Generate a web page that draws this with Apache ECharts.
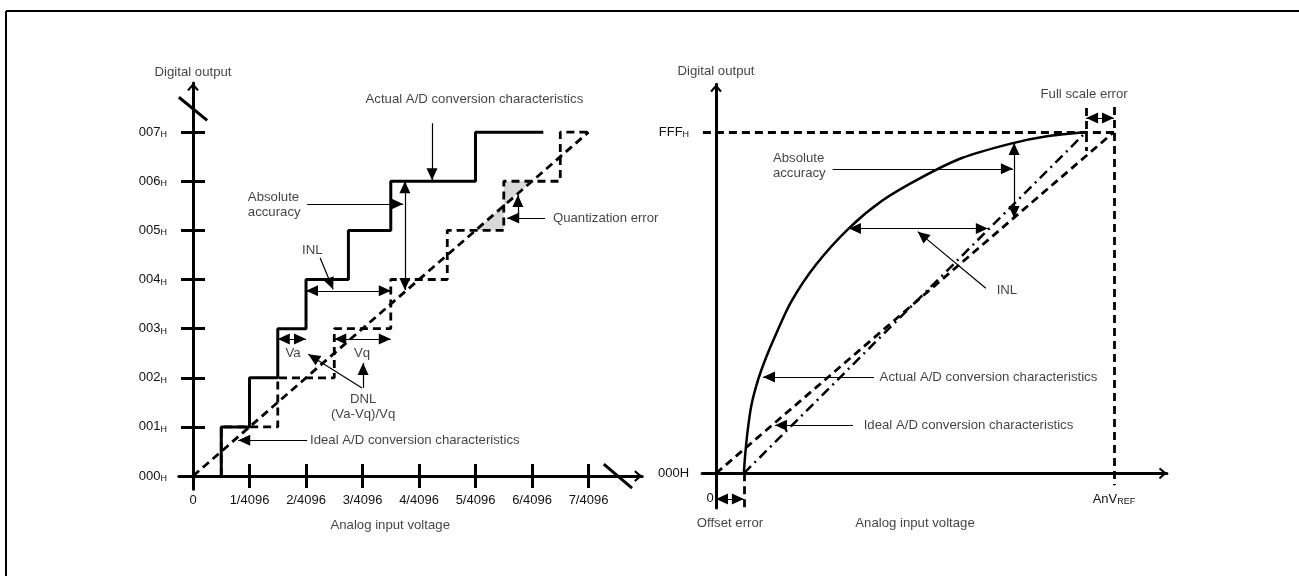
<!DOCTYPE html>
<html>
<head>
<meta charset="utf-8">
<script src="https://cdn.jsdelivr.net/npm/echarts@6/dist/echarts.min.js"></script>
<style>
html, body { margin: 0; padding: 0; background: #fff; }
#chart { width: 1299px; height: 576px; }
</style>
</head>
<body>
<div id="chart"></div>
<script>
// ---- left diagram: x in LSB (1/4096 steps), y in output codes ----
const codes = [0, 1, 2, 3, 4, 5, 6, 7];
const actualSteps = [0.5, 1, 1.5, 2, 2.75, 3.5, 5, 6.2];
const idealSteps = [0.5, 1.5, 2.5, 3.5, 4.5, 5.5, 6.5, 7];
const idealDiagonal = [[0, 0], [7, 7]];
const quantTriangles = [[5, 5, 5.5, 5, 5.5, 5.5], [5.5, 5.5, 5.5, 6, 6, 6]];
const xTickValues = [1, 2, 3, 4, 5, 6, 7];
const xLabelValues = [0, 1, 2, 3, 4, 5, 6, 7];
const xLabelTexts = ['0', '1/4096', '2/4096', '3/4096', '4/4096', '5/4096', '6/4096', '7/4096'];
const yTickValues = [1, 2, 3, 4, 5, 6, 7];
const yLabelTexts = ['000', '001', '002', '003', '004', '005', '006', '007'];

const arrowsL = [
    [[4.23, 7.18], [4.23, 6.02]],
    [[2.02, 5.535], [3.72, 5.535]],
    [[2.25, 4.44], [2.48, 3.8]],
    [[2.99, 1.79], [2.04, 2.48]],
    [[3.01, 1.79], [3.01, 2.30]],
    [[2.02, 0.73], [0.80, 0.73]],
    [[6.23, 5.25], [5.56, 5.25]],
    [[5.75, 5.25], [5.75, 5.72]]
];
const doubleArrowsL = [
    [[3.75, 6.0], [3.75, 3.785]],
    [[2.0, 3.77], [3.5, 3.77]],
    [[1.5, 2.79], [2.0, 2.79]],
    [[2.5, 2.79], [3.5, 2.79]]
];
const breaksL = [
    [[-0.25, 7.71], [0.25, 7.24]],
    [[7.27, 0.244], [7.77, -0.244]]
];
const textsL = [
    ['Digital output', 0, 8.22, 'center'],
    ['Actual A/D conversion characteristics', 4.98, 7.67, 'center'],
    ['Absolute\naccuracy', 0.97, 5.52, 'left'],
    ['INL', 2.11, 4.6, 'center'],
    ['Va', 1.77, 2.5, 'center'],
    ['Vq', 2.99, 2.5, 'center'],
    ['DNL\n(Va-Vq)/Vq', 3.01, 1.4, 'center'],
    ['Ideal A/D conversion characteristics', 2.07, 0.73, 'left'],
    ['Quantization error', 6.37, 5.25, 'left'],
    ['Analog input voltage', 3.49, -1.0, 'center']
];

// ---- right diagram: x, y in percent of full scale ----
const idealLineR = [[0, 0], [100, 100]];
const errorLineR = [[7, 0], [93, 100]];
const actualCurveR = [
    [7, 0], [7.3, 5], [7.9, 12], [8.9, 20], [10.6, 27.5], [12.6, 34], [14.7, 39.8],
    [18.9, 50.3], [25.1, 61.1], [33.5, 71.9], [41.8, 79.9], [51.2, 86.4],
    [61.6, 92.3], [74.1, 96.6], [83.5, 98.8], [93, 100]
];
const guidesR = [
    [[-3.3, 100], [100, 100]],
    [[100, 107.3], [100, -3.5]],
    [[93, 107], [93, 94.4]],
    [[7, 0], [7, -10.2]]
];
const arrowsR = [
    [[29.3, 89.2], [74.6, 89.2]],
    [[67.8, 54.2], [50.7, 70.8]],
    [[39.7, 28.2], [11.8, 28.2]],
    [[34.4, 14.1], [14.8, 14.1]]
];
const doubleArrowsR = [
    [[74.9, 96.8], [74.9, 74.8]],
    [[33.4, 71.7], [68.3, 71.7]],
    [[93, 104.1], [100, 104.1]],
    [[0, -7.5], [7, -7.5]]
];
const textsR = [
    ['Digital output', 0, 117.9, 'center'],
    ['Full scale error', 92.5, 110.9, 'center'],
    ['Absolute\naccuracy', 14.3, 90.0, 'left'],
    ['INL', 73.1, 53.6, 'center'],
    ['Actual A/D conversion characteristics', 41.1, 28.2, 'left'],
    ['Ideal A/D conversion characteristics', 37.1, 14.1, 'left'],
    ['Offset error', 3.5, -14.6, 'center'],
    ['Analog input voltage', 50, -14.6, 'center']
];
const xLabelValuesR = [0, 100];
const yLabelValuesR = [0, 100];

const ink = '#000';
const textColor = '#111';
const font = '"Liberation Sans", Arial, sans-serif';
const chevron = 'path://M0,7L6,0L12,7L10.2,8.2L6,3.4L1.8,8.2Z';
// triangle with its tip in the centre of the symbol box
const head = 'path://M4.5,-10L4.51,-10L4.5,-10ZM4.5,0L9,10L0,10Z';
const headSize = [11, 24];
const dash = [8, 5];

const chart = echarts.init(document.getElementById('chart'));

function axisLineStyle(show, onZeroIdx) {
    return {
        show: show, onZero: true, onZeroAxisIndex: onZeroIdx,
        symbol: ['none', chevron], symbolSize: [12, 8], symbolOffset: [0, -4],
        lineStyle: { color: ink, width: 3 }
    };
}
const tickStyle = { color: ink, width: 3 };
const labelBase = { color: textColor, fontFamily: font, fontSize: 13 };
const subRich = {
    n: { color: textColor, fontFamily: font, fontSize: 13 },
    s: { color: textColor, fontFamily: font, fontSize: 9, padding: [5, 0, 0, 0] },
    z: { color: textColor, fontFamily: font, fontSize: 13, padding: [0, 12, 0, 0] }
};

function arrowSeries(list, both, xi, yi) {
    return {
        type: 'lines', coordinateSystem: 'cartesian2d', xAxisIndex: xi, yAxisIndex: yi,
        symbol: [both ? head : 'none', head], symbolSize: [headSize, headSize],
        lineStyle: { color: ink, width: 1.2, opacity: 1 },
        data: list.map(c => ({ coords: c })), silent: true, z: 5
    };
}
function textSeries(list, xi, yi) {
    return {
        type: 'scatter', xAxisIndex: xi, yAxisIndex: yi, symbolSize: 1,
        itemStyle: { color: 'rgba(0,0,0,0)' }, clip: false, silent: true, z: 6,
        data: list.map(t => ({
            value: [t[1], t[2]],
            label: { show: true, position: 'inside', formatter: t[0], align: t[3],
                verticalAlign: 'middle', lineHeight: 15, color: textColor, fontFamily: font, fontSize: 13.2 }
        }))
    };
}

chart.setOption({
    animation: false,
    backgroundColor: '#fff',
    grid: [
        { left: 178.9, right: 656.8, top: 83, bottom: 86.7, outerBoundsMode: 'none' },
        { left: 702.1, right: 132.1, top: 84.2, bottom: 67.9, outerBoundsMode: 'none' }
    ],
    xAxis: [
        { gridIndex: 0, type: 'value', min: -0.25, max: 7.95, position: 'bottom',
          axisLine: axisLineStyle(true, 0),
          axisTick: { show: true, customValues: xTickValues, length: 12, lineStyle: tickStyle },
          axisLabel: { show: true, customValues: xLabelValues, margin: 5, ...labelBase,
                       formatter: v => xLabelTexts[Math.round(v)] },
          splitLine: { show: false } },
        { gridIndex: 0, type: 'value', min: -0.25, max: 7.95, position: 'bottom',
          axisLine: { show: false, onZero: true, onZeroAxisIndex: 0 },
          axisTick: { show: true, inside: true, customValues: xTickValues, length: 12, lineStyle: tickStyle },
          axisLabel: { show: false }, splitLine: { show: false } },
        { gridIndex: 1, type: 'value', min: -3.5, max: 113.3, position: 'bottom',
          axisLine: axisLineStyle(true, 2),
          axisTick: { show: false },
          axisLabel: { show: true, customValues: xLabelValuesR, margin: -16, ...labelBase, rich: subRich,
                       formatter: v => v === 0 ? '{z|0}' : '{n|AnV}{s|REF}' },
          splitLine: { show: false } }
    ],
    yAxis: [
        { gridIndex: 0, type: 'value', min: -0.27, max: 8.0, position: 'left',
          axisLine: axisLineStyle(true, 0),
          axisTick: { show: true, customValues: yTickValues, length: 12, lineStyle: tickStyle },
          axisLabel: { show: true, customValues: codes, margin: 12, ...labelBase, rich: subRich,
                       formatter: v => '{n|' + yLabelTexts[Math.round(v)] + '}{s|H}' },
          splitLine: { show: false } },
        { gridIndex: 0, type: 'value', min: -0.27, max: 8.0, position: 'left',
          axisLine: { show: false, onZero: true, onZeroAxisIndex: 0 },
          axisTick: { show: true, inside: true, customValues: yTickValues, length: 12, lineStyle: tickStyle },
          axisLabel: { show: false }, splitLine: { show: false } },
        { gridIndex: 1, type: 'value', min: -10.2, max: 114, position: 'left',
          axisLine: axisLineStyle(true, 2),
          axisTick: { show: false },
          axisLabel: { show: true, customValues: yLabelValuesR, margin: 13, ...labelBase, rich: subRich,
                       formatter: v => v === 0 ? '{n|000H}' : '{n|FFF}{s|H}' },
          splitLine: { show: false } }
    ],
    graphic: [
        { type: 'line', shape: { x1: 6, y1: 11, x2: 1299, y2: 11 }, style: { stroke: ink, lineWidth: 2 }, silent: true },
        { type: 'line', shape: { x1: 6, y1: 11, x2: 6, y2: 576 }, style: { stroke: ink, lineWidth: 2 }, silent: true }
    ],
    series: [
        // left diagram
        { type: 'custom', xAxisIndex: 0, yAxisIndex: 0, silent: true, z: 1,
          data: quantTriangles,
          renderItem: (params, api) => ({
              type: 'polygon',
              shape: { points: [0, 2, 4].map(i => api.coord([api.value(i), api.value(i + 1)])) },
              style: { fill: '#d9d9d9' }
          }) },
        { type: 'line', xAxisIndex: 0, yAxisIndex: 0, step: 'start', symbol: 'none', silent: true, z: 2,
          data: idealSteps.map((x, i) => [x, codes[i]]),
          lineStyle: { color: ink, width: 2.8, type: dash } },
        { type: 'line', xAxisIndex: 0, yAxisIndex: 0, symbol: 'none', silent: true, z: 2,
          data: idealDiagonal, lineStyle: { color: ink, width: 2.8, type: dash } },
        { type: 'line', xAxisIndex: 0, yAxisIndex: 0, step: 'start', symbol: 'none', silent: true, z: 3,
          data: actualSteps.map((x, i) => [x, codes[i]]),
          lineStyle: { color: ink, width: 3 } },
        { type: 'lines', coordinateSystem: 'cartesian2d', xAxisIndex: 0, yAxisIndex: 0, silent: true, z: 4,
          data: breaksL.map(c => ({ coords: c })), lineStyle: { color: ink, width: 3, opacity: 1 } },
        arrowSeries(arrowsL, false, 0, 0),
        arrowSeries(doubleArrowsL, true, 0, 0),
        textSeries(textsL, 0, 0),
        // right diagram
        { type: 'lines', coordinateSystem: 'cartesian2d', xAxisIndex: 2, yAxisIndex: 2, silent: true, z: 2,
          data: guidesR.map(c => ({ coords: c })), lineStyle: { color: ink, width: 2.8, type: dash, opacity: 1 } },
        { type: 'line', xAxisIndex: 2, yAxisIndex: 2, symbol: 'none', silent: true, z: 2,
          data: idealLineR, lineStyle: { color: ink, width: 2.8, type: dash } },
        { type: 'line', xAxisIndex: 2, yAxisIndex: 2, symbol: 'none', silent: true, z: 2,
          data: errorLineR, lineStyle: { color: ink, width: 2.5, type: [10, 5, 2, 5] } },
        { type: 'line', xAxisIndex: 2, yAxisIndex: 2, symbol: 'none', smooth: 0.3, silent: true, z: 3,
          data: actualCurveR, lineStyle: { color: ink, width: 2.5 } },
        arrowSeries(arrowsR, false, 2, 2),
        arrowSeries(doubleArrowsR, true, 2, 2),
        textSeries(textsR, 2, 2)
    ]
});
</script>
</body>
</html>
